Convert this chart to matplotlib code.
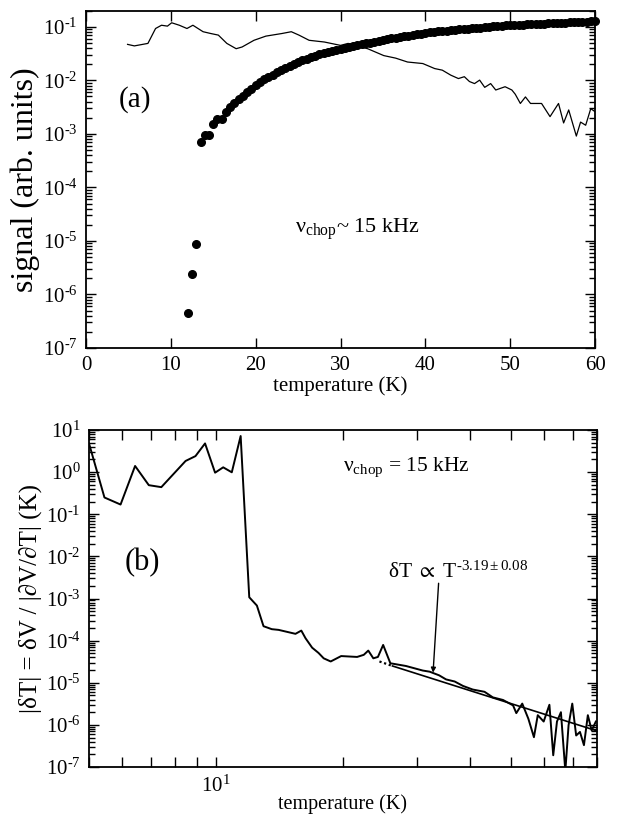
import matplotlib
matplotlib.use('Agg')
import matplotlib.pyplot as plt
from matplotlib.ticker import LogLocator, NullFormatter, FuncFormatter, FixedLocator
import numpy as np

# ---------------- data: panel (a) ----------------
line_a_T = [4.9, 5.7, 7.3, 8.2, 8.9, 9.6, 10.1, 11.0, 11.9, 12.6, 13.8, 14.7, 15.6, 16.6, 17.7,
            18.4, 19.8, 21.2, 23.1, 24.2, 25.1, 26.3, 28.1, 30.0, 30.9, 32.3, 33.2, 35.1, 36.5, 37.9,
            39.7, 41.1, 42.0, 43.0, 43.9,
            44.6, 45.2, 45.8, 46.4, 47.0, 47.7, 48.3, 49.4, 50.2, 50.6, 51.2, 51.8, 52.4, 53.7, 54.7,
            55.7, 56.3, 56.9, 57.8, 58.3, 58.9, 59.5, 60.0]
line_a_V = [0.047, 0.044, 0.049, 0.093, 0.107, 0.103, 0.119, 0.107, 0.093, 0.107, 0.081, 0.075, 0.070, 0.049, 0.039,
            0.042, 0.056, 0.067, 0.075, 0.081, 0.070, 0.056, 0.052, 0.045, 0.049, 0.042, 0.039, 0.029, 0.026, 0.022,
            0.0206, 0.0166, 0.0155, 0.0125, 0.0108,
            0.0117, 0.0095, 0.0087, 0.0101, 0.0074, 0.0087, 0.0066, 0.0076, 0.0066, 0.0055, 0.0037, 0.0049, 0.0037, 0.0037, 0.0021,
            0.0037, 0.0016, 0.0028, 0.00091, 0.00166, 0.00145, 0.00296, 0.0026]

dots_T = [12.05, 12.5, 13.0, 13.5, 14.0, 14.5, 15.0, 15.5, 16.0,
          16.5, 17.0, 17.5, 18.0, 18.5, 19.0, 19.5, 20.0, 20.5, 21.0,
          21.5, 22.0, 22.5, 23.0, 23.5, 24.0, 24.5, 25.0, 25.5, 26.0,
          26.5, 27.0, 27.5, 28.0, 28.5, 29.0, 29.5, 30.0, 30.5, 31.0,
          31.5, 32.0, 32.5, 33.0, 33.5, 34.0, 34.5, 35.0, 35.5, 36.0,
          36.5, 37.0, 37.5, 38.0, 38.5, 39.0, 39.5, 40.0, 40.5, 41.0,
          41.5, 42.0, 42.5, 43.0, 43.5, 44.0, 44.5, 45.0, 45.5, 46.0,
          46.5, 47.0, 47.5, 48.0, 48.5, 49.0, 49.5, 50.0, 50.5, 51.0,
          51.5, 52.0, 52.5, 53.0, 53.5, 54.0, 54.5, 55.0, 55.5, 56.0,
          56.5, 57.0, 57.5, 58.0, 58.5, 59.0, 59.5, 60.0]
dots_V = [4.5e-7, 2.4e-6, 8.7e-6, 7.0e-4, 9.6e-4, 9.6e-4, 1.5e-3, 1.9e-3, 1.9e-3,
          2.6e-3, 3.2e-3, 3.8e-3, 4.5e-3, 5.2e-3, 6.0e-3, 7.0e-3, 8.1e-3, 9.2e-3, 1.04e-2,
          1.16e-2, 1.28e-2, 1.41e-2, 1.55e-2, 1.70e-2, 1.86e-2, 2.03e-2, 2.2e-2, 2.37e-2, 2.54e-2,
          2.72e-2, 2.9e-2, 3.05e-2, 3.2e-2, 3.35e-2, 3.5e-2, 3.67e-2, 3.85e-2, 4.02e-2, 4.2e-2,
          4.38e-2, 4.55e-2, 4.72e-2, 4.9e-2, 5.08e-2, 5.27e-2, 5.46e-2, 5.65e-2, 5.85e-2, 6.05e-2,
          6.25e-2, 6.45e-2, 6.65e-2, 6.85e-2, 7.05e-2, 7.25e-2, 7.45e-2, 7.65e-2, 7.85e-2, 8.05e-2,
          8.2e-2, 8.35e-2, 8.5e-2, 8.65e-2, 8.8e-2, 8.95e-2, 9.1e-2, 9.25e-2, 9.4e-2, 9.55e-2,
          9.7e-2, 9.85e-2, 1.0e-1, 1.015e-1, 1.03e-1, 1.045e-1, 1.06e-1, 1.07e-1, 1.08e-1, 1.09e-1,
          1.10e-1, 1.11e-1, 1.12e-1, 1.13e-1, 1.14e-1, 1.15e-1, 1.16e-1, 1.17e-1, 1.18e-1, 1.19e-1,
          1.20e-1, 1.21e-1, 1.22e-1, 1.23e-1, 1.24e-1, 1.25e-1, 1.26e-1, 1.28e-1]

a_xticks = [0, 10, 20, 30, 40, 50, 60]

# ---------------- data: panel (b) ----------------
line_b_T = [5.0, 5.44, 5.94, 6.43, 6.93, 7.42, 8.47, 8.94, 9.42, 9.95, 10.4, 10.9, 11.44, 11.99, 12.5,
            12.96, 13.56, 14.07, 15.43, 15.93, 16.3, 16.9, 17.5, 18.0, 18.7, 19.8, 21.6, 22.4, 22.96, 23.6,
            24.2, 24.9, 25.9, 28.2, 30.9, 32.1, 33.8, 35.1, 36.8, 38.5, 40.6, 43.3, 45.3, 47.9, 50.6,
            51.5, 53.2, 55.0, 56.7, 57.9, 59.8, 61.7, 63.0, 64.3, 65.7, 67.3, 68.5, 69.9, 71.4, 72.9,
            74.5, 76.1, 77.7, 79.5]
line_b_V = [4.8, 0.25, 0.17, 1.4, 0.49, 0.44, 1.84, 2.4, 4.8, 0.97, 1.3, 0.99, 7.2, 1.07e-3, 6.8e-4,
            2.2e-4, 1.87e-4, 1.8e-4, 1.45e-4, 1.73e-4, 1.14e-4, 6.8e-5, 5.1e-5, 3.8e-5, 3.2e-5, 4.3e-5, 4.1e-5, 4.6e-5, 5.8e-5, 3.8e-5,
            4.1e-5, 7.9e-5, 2.9e-5, 2.5e-5, 1.95e-5, 1.83e-5, 1.5e-5, 1.2e-5, 1.07e-5, 8.4e-6, 6.9e-6, 6.1e-6, 4.5e-6, 3.9e-6, 2.9e-6,
            1.9e-6, 3.2e-6, 1.4e-6, 5.1e-7, 1.7e-6, 1.2e-6, 3.0e-6, 1.9e-7, 1.2e-6, 2.0e-6, 8e-8, 9.8e-7, 3.2e-6, 5.6e-7, 6.8e-7,
            3.3e-7, 1.7e-6, 7.4e-7, 1.2e-6]

fit_dotted_T = [24.4, 26.2]
fit_dotted_V = [3.2e-5, 2.5e-5]
fit_solid_T = [26.2, 80.0]
fit_solid_V = [2.5e-5, 7.2e-7]

arrow_tail = (33.7, 2.3e-3)
arrow_head = (32.7, 1.74e-5)

# ---------------- style ----------------
plt.rcParams['font.family'] = ['Liberation Serif', 'DejaVu Serif']
plt.rcParams['mathtext.fontset'] = 'custom'
plt.rcParams['mathtext.rm'] = 'Liberation Serif'
plt.rcParams['mathtext.it'] = 'Liberation Serif:italic'
plt.rcParams['mathtext.bf'] = 'Liberation Serif:bold'
plt.rcParams['mathtext.fallback'] = 'stix'
plt.rcParams['axes.unicode_minus'] = False

TICK_FS = 15


def pow_fmt(v, pos):
    e = int(round(np.log10(v)))
    return r'10$^{\text{%d}}$' % e


def style_axes(ax):
    for s in ax.spines.values():
        s.set_linewidth(1.3)
    ax.tick_params(which='both', direction='in', top=True, right=True,
                   labelsize=TICK_FS, width=1.0)
    ax.tick_params(which='major', length=7, pad=6)
    ax.tick_params(which='minor', length=4.5)


fig = plt.figure(figsize=(6.17, 8.17), dpi=100)

# ---------------- panel (a) ----------------
ax1 = fig.add_axes([86 / 617, 1 - 348 / 817, (595 - 86) / 617, (348 - 10.7) / 817])
ax1.set_yscale('log')
ax1.plot(line_a_T, line_a_V, color='black', lw=0.9)
ax1.plot(dots_T, dots_V, linestyle='none', marker='o', ms=5.5, color='black', clip_on=False)
ax1.set_xlim(0, 60)
ax1.set_ylim(1e-7, 0.2)
ax1.set_xticks(a_xticks)
ax1.xaxis.set_minor_locator(FixedLocator([]))
ax1.yaxis.set_major_locator(LogLocator(base=10, numticks=100))
ax1.yaxis.set_minor_locator(LogLocator(base=10, subs=np.arange(2, 10), numticks=100))
ax1.yaxis.set_major_formatter(FuncFormatter(pow_fmt))
ax1.yaxis.set_minor_formatter(NullFormatter())
style_axes(ax1)
ax1.set_xlabel('temperature (K)', fontsize=15, labelpad=1)
ax1.set_ylabel('signal (arb. units)', fontsize=23, labelpad=2)
ax1.text(3.9, 3.2e-3, '(a)', fontsize=21, ha='left', va='baseline')
ax1.text(24.6, 1.4e-5, r'ν$_{\mathrm{chop}}$~ 15 kHz', fontsize=16, ha='left', va='baseline')

# ---------------- panel (b) ----------------
ax2 = fig.add_axes([89 / 617, 1 - 767 / 817, (597 - 89) / 617, (767 - 430) / 817])
ax2.set_xscale('log')
ax2.set_yscale('log')
ax2.plot(line_b_T, line_b_V, color='black', lw=1.4)
ax2.plot(fit_dotted_T, fit_dotted_V, color='black', lw=1.6, linestyle=(0, (1, 1.2)))
ax2.plot(fit_solid_T, fit_solid_V, color='black', lw=1.2)
ax2.set_xlim(5, 80)
ax2.set_ylim(1e-7, 10)
ax2.xaxis.set_major_locator(LogLocator(base=10, numticks=100))
ax2.xaxis.set_minor_locator(LogLocator(base=10, subs=np.arange(2, 10), numticks=100))
ax2.xaxis.set_major_formatter(FuncFormatter(pow_fmt))
ax2.xaxis.set_minor_formatter(NullFormatter())
ax2.yaxis.set_major_locator(LogLocator(base=10, numticks=100))
ax2.yaxis.set_minor_locator(LogLocator(base=10, subs=np.arange(2, 10), numticks=100))
ax2.yaxis.set_major_formatter(FuncFormatter(pow_fmt))
ax2.yaxis.set_minor_formatter(NullFormatter())
style_axes(ax2)
ax2.tick_params(axis='x', which='minor', length=7)
ax2.set_xlabel('temperature (K)', fontsize=14.5, va='bottom')
ax2.xaxis.set_label_coords(0.5, -0.138)
ax2.set_ylabel('|δT| = δV / |∂V/∂T| (K)', fontsize=18, labelpad=3)
ax2.text(6.07, 4.8e-3, '(b)', fontsize=22, ha='left', va='baseline')
ax2.text(20.0, 1.08, r'ν$_{\mathrm{chop}}$ = 15 kHz', fontsize=15.5, ha='left', va='baseline')
ax2.text(25.5, 3.1e-3, r'δT $\propto$ T$^{\text{-3.19}\pm\text{0.08}}$', fontsize=15.5, ha='left', va='baseline')
ax2.annotate('', xy=arrow_head, xytext=arrow_tail,
             arrowprops=dict(arrowstyle='-|>', color='black', lw=1.0, mutation_scale=7,
                             shrinkA=0, shrinkB=0))

fig.savefig('out.png', dpi=100)
